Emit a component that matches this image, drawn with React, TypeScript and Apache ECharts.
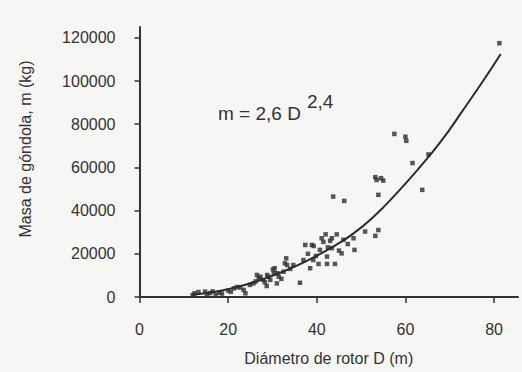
import React, { useEffect, useRef } from "react";
import * as echarts from "echarts";

// Axis ticks
const xTicks = [0, 20, 40, 60, 80];
const yTicks = [0, 20000, 40000, 60000, 80000, 100000, 120000];

// Scatter points: rotor diameter D (m), nacelle mass m (kg)
const diameters = [
  12.0, 12.4, 13.3, 14.8, 15.2, 15.9, 16.5, 17.2, 18.0, 18.6, 20.0, 20.6, 21.3, 22.0, 22.7,
  23.5, 23.9, 24.9, 25.7, 26.2, 26.5, 26.9, 27.3, 27.9, 28.3, 28.7, 28.8, 29.1, 29.5, 30.1,
  30.3, 30.5, 31.0, 31.1, 31.4, 32.0, 32.5, 32.8, 33.1, 33.3, 34.0, 34.7, 36.2, 37.0, 37.4,
  38.0, 38.5, 38.9, 39.2, 39.3, 39.8, 40.4, 40.7, 41.1, 41.5, 42.0, 42.3, 42.3, 42.5, 43.0,
  43.4, 43.4, 43.7, 44.1, 44.5, 45.0, 45.6, 46.0, 46.2, 47.0, 48.3, 48.5, 50.9, 53.2, 53.2,
  53.5, 53.9, 53.9, 54.5, 55.0, 57.5, 60.0, 60.2, 61.6, 63.8, 65.2, 81.2,
];
const masses = [
  900, 1700, 2300, 2500, 900, 1800, 2600, 1000, 2000, 1600, 3000, 2400, 4000, 4600, 4400,
  3300, 1700, 5600, 6300, 7200, 10200, 8700, 9400, 7900, 6800, 5100, 10200, 9400, 7900, 12800,
  11000, 13300, 6300, 11000, 9400, 8400, 11700, 15600, 17900, 14800, 13000, 14800, 6600, 17100, 24100,
  20000, 13300, 24100, 17100, 23600, 19000, 15300, 21800, 27200, 25500, 29000, 18700, 15300, 23000, 26000,
  22600, 27200, 46500, 15300, 29000, 21500, 20200, 26500, 44500, 24500, 27200, 21800, 30300, 28300, 55500,
  54200, 31000, 47300, 55000, 53900, 75500, 74200, 72300, 62000, 49600, 66000, 117500,
];

// Fitted curve
const curveD = [12, 18, 23, 28, 33, 38, 43, 48, 53, 58, 63, 68, 73, 78, 81.5];
const curveM = [1000, 2800, 5200, 8300, 12300, 17000, 22500, 29000, 37500, 48000, 59500, 72000, 86500, 101500, 112500];

const FONT = "'Liberation Sans', Arial, sans-serif";
const INK = "#333333";

export default function App() {
  const ref = useRef<HTMLDivElement>(null);

  useEffect(() => {
    document.body.style.margin = "0";
    if (!ref.current) return;
    const chart = echarts.init(ref.current, undefined, { renderer: "svg" });
    const points = diameters.map((d, i) => [d, masses[i]]);
    const curve = curveD.map((d, i) => [d, curveM[i]]);
    chart.setOption({
      animation: false,
      backgroundColor: "#f6f6f4",
      grid: {
        left: 139.5,
        right: 4,
        top: 27,
        bottom: 75,
        containLabel: false,
        outerBoundsMode: "none",
      },
      xAxis: {
        type: "value",
        min: 0,
        max: 85.4,
        name: "Diámetro de rotor D (m)",
        nameLocation: "middle",
        nameGap: 53,
        nameTextStyle: { fontFamily: FONT, fontSize: 16, color: INK },
        axisLine: { show: true, onZero: false, lineStyle: { color: INK, width: 2 } },
        axisTick: { show: true, length: 6, lineStyle: { color: INK, width: 1.5 }, customValues: xTicks },
        axisLabel: {
          customValues: xTicks,
          margin: 24,
          fontFamily: FONT,
          fontSize: 16,
          color: INK,
          formatter: (v: number) => String(v),
        },
        splitLine: { show: false },
      },
      yAxis: {
        type: "value",
        min: 0,
        max: 125000,
        axisLine: { show: true, onZero: false, lineStyle: { color: INK, width: 2 } },
        axisTick: { show: true, length: 5, lineStyle: { color: INK, width: 1.5 }, customValues: yTicks },
        axisLabel: {
          customValues: yTicks,
          margin: 24,
          fontFamily: FONT,
          fontSize: 16,
          color: INK,
          formatter: (v: number) => String(v),
        },
        splitLine: { show: false },
      },
      graphic: [
        {
          type: "text",
          x: 25,
          y: 149,
          rotation: Math.PI / 2,
          style: {
            text: "Masa de góndola, m (kg)",
            fontFamily: FONT,
            fontSize: 16,
            fill: INK,
            align: "center",
            verticalAlign: "middle",
          },
        },
        {
          type: "text",
          x: 218,
          y: 113,
          style: {
            text: "m = 2,6 D",
            fontFamily: FONT,
            fontSize: 19,
            fill: INK,
            align: "left",
            verticalAlign: "middle",
          },
        },
        {
          type: "text",
          x: 307,
          y: 101,
          style: {
            text: "2,4",
            fontFamily: FONT,
            fontSize: 19,
            fill: INK,
            align: "left",
            verticalAlign: "middle",
          },
        },
      ],
      series: [
        {
          type: "scatter",
          data: points,
          symbol: "rect",
          symbolSize: 4.5,
          itemStyle: { color: "#2e2e2e" },
          z: 2,
        },
        {
          type: "line",
          data: curve,
          smooth: true,
          showSymbol: false,
          symbol: "none",
          lineStyle: { color: "#2b2b2b", width: 2 },
          z: 3,
        },
      ],
    });
    return () => chart.dispose();
  }, []);

  return <div ref={ref} style={{ width: 522, height: 372 }} />;
}
